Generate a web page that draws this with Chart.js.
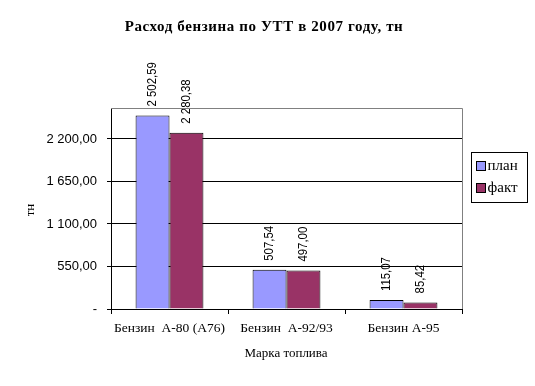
<!DOCTYPE html>
<html>
<head>
<meta charset="utf-8">
<script src="https://cdn.jsdelivr.net/npm/chart.js@4/dist/chart.umd.min.js"></script>
<style>
  body { margin: 0; background: #fff; }
  #wrap { width: 535px; height: 386px; position: relative; }
</style>
</head>
<body>
<div id="wrap"><canvas id="fuelChart"></canvas></div>
<script>
// data
const categories = ['Бензин  А-80 (А76)', 'Бензин  А-92/93', 'Бензин А-95'];
const planValues = [2502.59, 507.54, 115.07];
const factValues = [2280.38, 497.00, 85.42];
const yTicks = [0, 550, 1100, 1650, 2200];
const yMax = 2600;

const serif = '"Liberation Serif", "Times New Roman", serif';
const narrow = '"Liberation Sans Narrow", "Arial Narrow", "Liberation Sans", Arial, sans-serif';

function fmt(v) {
    if (v === 0) return '-';
    const parts = v.toFixed(2).split('.');
    return parts[0].replace(/\B(?=(\d{3})+(?!\d))/g, ' ') + ',' + parts[1];
}

// value labels above bars, rotated
const valueLabels = {
    id: 'valueLabels',
    afterDatasetsDraw(chart) {
        const ctx = chart.ctx;
        ctx.save();
        ctx.font = '12px ' + narrow;
        ctx.fillStyle = '#000';
        ctx.textAlign = 'left';
        ctx.textBaseline = 'middle';
        chart.data.datasets.forEach((ds, i) => {
            chart.getDatasetMeta(i).data.forEach((bar, j) => {
                ctx.save();
                ctx.translate(bar.x, bar.y - 9);
                ctx.rotate(-Math.PI / 2);
                ctx.scale(0.95, 1);
                ctx.fillText(fmt(ds.data[j]), 0, 0);
                ctx.restore();
            });
        });
        ctx.restore();
    }
};

// titles, grey frame on top/right, legend box
const frameAndLegend = {
    id: 'frameAndLegend',
    afterDraw(chart) {
        const ctx = chart.ctx;
        const a = chart.chartArea;
        ctx.save();
        ctx.strokeStyle = '#808080';
        ctx.lineWidth = 1;
        ctx.beginPath();
        ctx.moveTo(a.left, a.top + 0.5);
        ctx.lineTo(a.right + 0.5, a.top + 0.5);
        ctx.lineTo(a.right + 0.5, a.bottom);
        ctx.stroke();

        ctx.fillStyle = '#000';
        ctx.textAlign = 'center';
        ctx.textBaseline = 'middle';
        ctx.font = 'bold 15px ' + serif;
        if ('letterSpacing' in ctx) ctx.letterSpacing = '0.6px';
        ctx.fillText('Расход бензина по УТТ в 2007 году, тн', 264, 27);
        if ('letterSpacing' in ctx) ctx.letterSpacing = '0px';
        ctx.font = '13px ' + serif;
        ctx.fillText('Марка топлива', 286, 354);
        ctx.save();
        ctx.translate(31, 210);
        ctx.rotate(-Math.PI / 2);
        ctx.fillText('тн', 0, 0);
        ctx.restore();

        // legend
        const lx = 471.5, ly = 152.5, lw = 56, lh = 50;
        ctx.textAlign = 'left';
        ctx.strokeStyle = '#000';
        ctx.strokeRect(lx, ly, lw, lh);
        ctx.font = '15px ' + serif;
        chart.data.datasets.forEach((ds, i) => {
            const cy = ly + 14 + i * 22;
            ctx.fillStyle = ds.backgroundColor;
            ctx.fillRect(lx + 5, cy - 5, 9, 9);
            ctx.strokeRect(lx + 5, cy - 5, 9, 9);
            ctx.fillStyle = '#000';
            ctx.fillText(ds.label, lx + 16, cy);
        });
        ctx.restore();
    }
};

new Chart(document.getElementById('fuelChart'), {
    type: 'bar',
    data: {
        labels: categories,
        datasets: [
            { label: 'план', data: planValues, backgroundColor: '#9999ff', borderColor: '#000', borderWidth: 1 },
            { label: 'факт', data: factValues, backgroundColor: '#993366', borderColor: '#000', borderWidth: 1 }
        ]
    },
    options: {
        responsive: true,
        maintainAspectRatio: false,
        animation: false,
        categoryPercentage: 0.58,
        barPercentage: 1,
        layout: { padding: { top: 108, right: 73, left: 0, bottom: 0 } },
        plugins: {
            legend: { display: false },
            tooltip: { enabled: false }
        },
        scales: {
            x: {
                afterFit(s) { s.height = 77; },
                grid: { offset: true, drawOnChartArea: false, color: '#000', tickLength: 5 },
                border: { color: '#000' },
                ticks: { color: '#000', font: { family: serif, size: 13.5 }, padding: 6, maxRotation: 0 }
            },
            y: {
                min: 0,
                max: yMax,
                afterFit(s) { s.width = 111; },
                afterBuildTicks(s) { s.ticks = yTicks.map(v => ({ value: v })); },
                grid: { color: '#000', tickLength: 4 },
                border: { color: '#000' },
                ticks: { color: '#000', font: { family: narrow, size: 13 }, padding: 10, callback: v => fmt(v) }
            }
        }
    },
    plugins: [valueLabels, frameAndLegend]
});
</script>
</body>
</html>
